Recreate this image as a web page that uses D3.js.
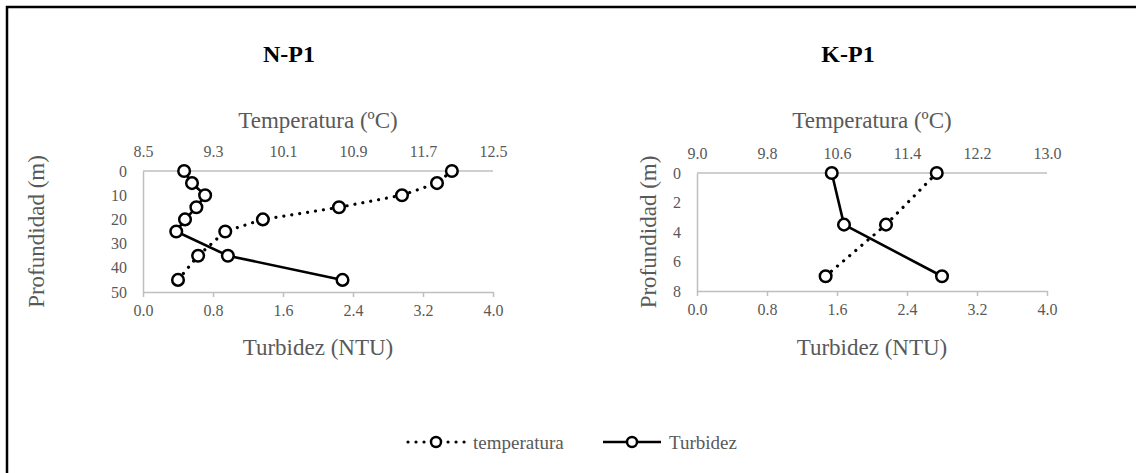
<!DOCTYPE html>
<html>
<head>
<meta charset="utf-8">
<script src="https://cdn.jsdelivr.net/npm/d3@7"></script>
<style>
  html, body { margin: 0; padding: 0; background: #fff; }
  svg { display: block; }
  text { font-family: "Liberation Serif", "Times New Roman", serif; }
</style>
</head>
<body>
<svg id="chart" width="1136" height="473"></svg>
<script>
// ---- Station N-P1 ----
const npDepth = [0, 5, 10, 15, 20, 25, 35, 45];
const npTemp  = [12.03, 11.86, 11.46, 10.74, 9.87, 9.44, 9.13, 8.90];
const npTurb  = [0.47, 0.56, 0.71, 0.61, 0.48, 0.38, 0.97, 2.28];
const npDepthTicks = [0, 10, 20, 30, 40, 50];
const npTempTicks  = [8.5, 9.3, 10.1, 10.9, 11.7, 12.5];

// ---- Station K-P1 ----
const kpDepth = [0, 3.5, 7];
const kpTemp  = [11.74, 11.16, 10.47];
const kpTurb  = [1.54, 1.68, 2.80];
const kpDepthTicks = [0, 2, 4, 6, 8];
const kpTempTicks  = [9.0, 9.8, 10.6, 11.4, 12.2, 13.0];

const turbTicks = [0.0, 0.8, 1.6, 2.4, 3.2, 4.0];

const svg = d3.select("#chart");
const GRAY = "#bfbfbf";
const TXT = "#595959";

// outer frame
svg.append("rect")
  .attr("x", 7).attr("y", 7)
  .attr("width", 1140).attr("height", 480)
  .attr("fill", "none").attr("stroke", "#000").attr("stroke-width", 2.5);

function panel(cfg) {
  const g = svg.append("g");
  const xTurb = d3.scaleLinear().domain([0, 4]).range([cfg.left, cfg.right]);
  const xTemp = d3.scaleLinear().domain(cfg.tempDomain).range([cfg.left, cfg.right]);
  const y = d3.scaleLinear().domain(cfg.depthDomain).range([cfg.top, cfg.bottom]);

  // bottom axis (turbidity)
  const ax = g.append("g").attr("transform", `translate(0,${cfg.bottom})`)
    .call(d3.axisBottom(xTurb).tickValues(turbTicks).tickFormat(d3.format(".1f"))
      .tickSizeInner(5).tickSizeOuter(0).tickPadding(8));
  // top axis (temperature)
  const at = g.append("g").attr("transform", `translate(0,${cfg.top})`)
    .call(d3.axisTop(xTemp).tickValues(cfg.tempTicks).tickFormat(d3.format(".1f"))
      .tickSize(0).tickPadding(14));
  // left axis (depth)
  const al = g.append("g").attr("transform", `translate(${cfg.left},0)`)
    .call(d3.axisLeft(y).tickValues(cfg.depthTicks).tickSize(0).tickPadding(16));

  [ax, at, al].forEach(a => {
    a.select(".domain").attr("stroke", GRAY).attr("stroke-width", 1.5);
    a.selectAll(".tick line").attr("stroke", GRAY).attr("stroke-width", 1.5);
    a.selectAll(".tick text").attr("fill", TXT).style("font-size", "16px")
      .style("font-family", '"Liberation Serif", "Times New Roman", serif');
  });
  // top axis without tick marks at ends
  at.select(".domain").attr("d", `M${cfg.left},0H${cfg.right}`);

  // chart title
  g.append("text").attr("x", cfg.titleX).attr("y", 62)
    .attr("text-anchor", "middle").attr("font-weight", "bold")
    .attr("font-size", 24).attr("fill", "#000").text(cfg.title);

  const cx = (cfg.left + cfg.right) / 2;
  g.append("text").attr("x", cx).attr("y", 128)
    .attr("text-anchor", "middle").attr("font-size", 23).attr("fill", TXT)
    .text("Temperatura (ºC)");
  g.append("text").attr("x", cx).attr("y", 355)
    .attr("text-anchor", "middle").attr("font-size", 23).attr("fill", TXT)
    .text("Turbidez (NTU)");
  g.append("text")
    .attr("transform", `translate(${cfg.yTitleX},${(cfg.top + cfg.bottom) / 2}) rotate(-90)`)
    .attr("text-anchor", "middle").attr("dy", "0.35em")
    .attr("font-size", 23).attr("fill", TXT)
    .text("Profundidad (m)");

  const tempPts = cfg.depth.map((d, i) => [xTemp(cfg.temp[i]), y(d)]);
  const turbPts = cfg.depth.map((d, i) => [xTurb(cfg.turb[i]), y(d)]);
  const line = d3.line();

  g.append("path").attr("d", line(tempPts))
    .attr("fill", "none").attr("stroke", "#000").attr("stroke-width", 3.2)
    .attr("stroke-linecap", "round").attr("stroke-dasharray", "0.01 8");
  g.append("path").attr("d", line(turbPts))
    .attr("fill", "none").attr("stroke", "#000").attr("stroke-width", 2.6);

  [tempPts, turbPts].forEach(pts => {
    g.selectAll(null).data(pts).enter().append("circle")
      .attr("cx", d => d[0]).attr("cy", d => d[1]).attr("r", 5.8)
      .attr("fill", "#fff").attr("stroke", "#000").attr("stroke-width", 2.5);
  });
}

panel({
  title: "N-P1", titleX: 289,
  left: 143, right: 493, top: 171, bottom: 292,
  tempDomain: [8.5, 12.5], tempTicks: npTempTicks,
  depthDomain: [0, 50], depthTicks: npDepthTicks,
  depth: npDepth, temp: npTemp, turb: npTurb,
  yTitleX: 36
});

panel({
  title: "K-P1", titleX: 848,
  left: 697, right: 1047, top: 173, bottom: 291,
  tempDomain: [9, 13], tempTicks: kpTempTicks,
  depthDomain: [0, 8], depthTicks: kpDepthTicks,
  depth: kpDepth, temp: kpTemp, turb: kpTurb,
  yTitleX: 648
});

// legend
const lg = svg.append("g").attr("transform", "translate(0,442)");
lg.append("line").attr("x1", 408).attr("x2", 465).attr("y1", 0).attr("y2", 0)
  .attr("stroke", "#000").attr("stroke-width", 3.2)
  .attr("stroke-linecap", "round").attr("stroke-dasharray", "0.01 8");
lg.append("circle").attr("cx", 436).attr("cy", 0).attr("r", 5)
  .attr("fill", "#fff").attr("stroke", "#000").attr("stroke-width", 2.5);
lg.append("text").attr("x", 473).attr("y", 0).attr("dy", "0.35em")
  .attr("font-size", 19).attr("fill", TXT).text("temperatura");

lg.append("line").attr("x1", 603).attr("x2", 661).attr("y1", 0).attr("y2", 0)
  .attr("stroke", "#000").attr("stroke-width", 2.6);
lg.append("circle").attr("cx", 632).attr("cy", 0).attr("r", 5)
  .attr("fill", "#fff").attr("stroke", "#000").attr("stroke-width", 2.5);
lg.append("text").attr("x", 669).attr("y", 0).attr("dy", "0.35em")
  .attr("font-size", 19).attr("fill", TXT).text("Turbidez");
</script>
</body>
</html>
